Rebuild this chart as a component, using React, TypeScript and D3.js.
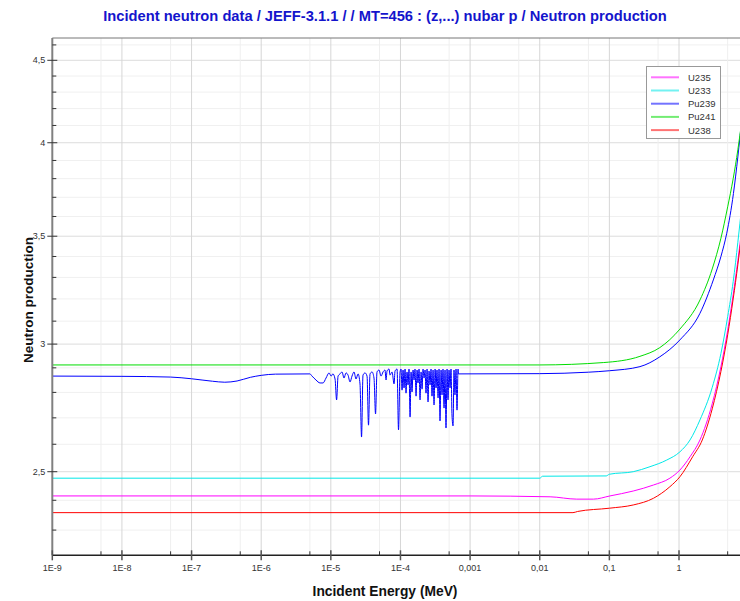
import React from 'react';
import * as d3 from 'd3';

const title = 'Incident neutron data / JEFF-3.1.1 / / MT=456 : (z,...) nubar p / Neutron production';
const xLabel = 'Incident Energy (MeV)';
const yLabel = 'Neutron production';

const xTicks = [1e-9, 1e-8, 1e-7, 1e-6, 1e-5, 1e-4, 1e-3, 1e-2, 1e-1, 1];
const xTickLabels = ['1E-9', '1E-8', '1E-7', '1E-6', '1E-5', '1E-4', '0,001', '0,01', '0,1', '1'];
const xMinorTicks = [5e-9, 5e-8, 5e-7, 5e-6, 5e-5, 5e-4, 5e-3, 5e-2, 0.5, 5];
const yTicks = [2.5, 3, 3.5, 4, 4.5];
const yTickLabels = ['2,5', '3', '3,5', '4', '4,5'];
const yMinorTicks = [2.3, 2.4, 2.6, 2.7, 2.8, 2.9, 3.1, 3.2, 3.3, 3.4, 3.6, 3.7, 3.8, 3.9, 4.1, 4.2, 4.3, 4.4, 4.6];

// [energy MeV, nubar]
const u235 = [[1e-9, 2.415], [1e-3, 2.415], [0.0141, 2.412], [0.034, 2.404], [0.059, 2.404], [0.102, 2.415], [0.22, 2.432], [0.43, 2.453], [0.74, 2.477], [1.03, 2.506], [1.44, 2.554], [2, 2.616], [3, 2.755], [4, 2.905], [5, 3.06], [6, 3.22], [7, 3.38], [8, 3.54]];
const u233 = [[1e-9, 2.477], [0.01, 2.477], [0.011, 2.484], [0.09, 2.485], [0.1, 2.491], [0.22, 2.5], [0.383, 2.518], [0.666, 2.542], [1.03, 2.572], [1.44, 2.616], [2, 2.692], [3, 2.82], [4, 2.96], [5, 3.12], [6, 3.28], [7, 3.47], [8, 3.66]];
const pu239Low = [[1e-9, 2.866], [1e-8, 2.865], [5e-8, 2.862], [1e-7, 2.855], [2e-7, 2.845], [3e-7, 2.841], [4.5e-7, 2.846], [7e-7, 2.861], [1e-6, 2.869], [1.6e-6, 2.874], [5e-6, 2.875]];
const pu239Res = [
  [5.37e-6, 2.866], [6.12e-6, 2.85], [7.0e-6, 2.838], [7.73e-6, 2.838], [8.53e-6, 2.858], [9.42e-6, 2.879],
  [1.01e-5, 2.866], [1.07e-5, 2.875], [1.15e-5, 2.854], [1.21e-5, 2.77], [1.27e-5, 2.866], [1.355e-5, 2.875],
  [1.449e-5, 2.883], [1.546e-5, 2.858], [1.652e-5, 2.879], [1.766e-5, 2.87], [1.888e-5, 2.842], [2.014e-5, 2.866],
  [2.153e-5, 2.883], [2.301e-5, 2.854], [2.46e-5, 2.875], [2.624e-5, 2.834], [2.761e-5, 2.627], [2.897e-5, 2.87],
  [3.097e-5, 2.879], [3.311e-5, 2.866], [3.475e-5, 2.672], [3.656e-5, 2.875], [3.908e-5, 2.883], [4.169e-5, 2.858],
  [4.385e-5, 2.715], [4.603e-5, 2.883], [4.92e-5, 2.891], [5.26e-5, 2.866], [5.623e-5, 2.883], [5.998e-5, 2.891],
  [6.209e-5, 2.85], [6.412e-5, 2.887], [6.855e-5, 2.895], [7.079e-5, 2.87], [7.568e-5, 2.883], [8.091e-5, 2.834],
  [8.356e-5, 2.887], [8.933e-5, 2.895], [9.376e-5, 2.654], [9.863e-5, 2.883], [1.019e-4, 2.895], [1.054e-4, 2.809],
  [1.089e-4, 2.891], [1.125e-4, 2.818], [1.164e-4, 2.895], [1.202e-4, 2.797], [1.242e-4, 2.883], [1.285e-4, 2.83],
  [1.327e-4, 2.895], [1.374e-4, 2.703], [1.419e-4, 2.883], [1.466e-4, 2.802], [1.517e-4, 2.891], [1.567e-4, 2.85],
  [1.618e-4, 2.895], [1.675e-4, 2.785], [1.73e-4, 2.891], [1.786e-4, 2.838], [1.849e-4, 2.895], [1.91e-4, 2.77],
  [1.977e-4, 2.883], [2.042e-4, 2.813], [2.109e-4, 2.895], [2.183e-4, 2.858], [2.254e-4, 2.891], [2.328e-4, 2.797],
  [2.41e-4, 2.895], [2.489e-4, 2.762], [2.57e-4, 2.887], [2.661e-4, 2.83], [2.748e-4, 2.895], [2.838e-4, 2.785],
  [2.938e-4, 2.891], [3.034e-4, 2.75], [3.141e-4, 2.895], [3.243e-4, 2.818], [3.35e-4, 2.891], [3.467e-4, 2.778],
  [3.581e-4, 2.895], [3.698e-4, 2.688], [3.828e-4, 2.891], [3.954e-4, 2.79], [4.083e-4, 2.895], [4.227e-4, 2.738],
  [4.365e-4, 2.891], [4.508e-4, 2.661], [4.667e-4, 2.895], [4.819e-4, 2.77], [4.977e-4, 2.891], [5.152e-4, 2.818],
  [5.321e-4, 2.895], [5.495e-4, 2.711], [5.689e-4, 2.669], [5.875e-4, 2.891], [6.067e-4, 2.79], [6.281e-4, 2.895],
  [6.486e-4, 2.73], [6.714e-4, 2.895],
];
const pu239High = [[6.8e-4, 2.875], [0.01, 2.876], [0.05, 2.882], [0.1, 2.888], [0.275, 2.905], [0.53, 2.946], [1.03, 3.018], [2, 3.135], [3.11, 3.288], [4, 3.4], [4.85, 3.515], [6.05, 3.72], [7, 3.92], [8, 4.14]];
const pu241 = [[1e-9, 2.912], [0.01, 2.912], [0.083, 2.922], [0.275, 2.948], [0.53, 2.985], [1.03, 3.065], [2, 3.195], [3, 3.34], [4, 3.49], [5, 3.65], [6, 3.8], [7, 3.96], [8, 4.13]];
const u238 = [[1e-9, 2.358], [0.03, 2.358], [0.035, 2.362], [0.1, 2.373], [0.22, 2.384], [0.43, 2.407], [0.74, 2.447], [1.03, 2.482], [1.57, 2.554], [2.16, 2.616], [3, 2.735], [4, 2.885], [5, 3.04], [6, 3.2], [7, 3.36], [8, 3.52]];

const seriesNames = ['U235', 'U233', 'Pu239', 'Pu241', 'U238'];
const seriesColors = ['#ff00ff', '#00e8e8', '#0000ff', '#00dd00', '#ff0000'];
const seriesData = [u235, u233, [...pu239Low, ...pu239Res, ...pu239High], pu241, u238];

const W = 740;
const H = 601;
const left = 52.3;
const top = 38;
const bottom = 555.3;
const font = '"Liberation Sans", Arial, sans-serif';

export default function App() {
  const x = d3.scaleLog().domain([1e-9, 1]).range([left, 679]);
  const y = d3.scaleLog().domain([2.2186, 4.6457]).range([bottom, top]);
  const line = d3.line<number[]>().x(d => x(d[0])).y(d => y(d[1])).curve(d3.curveMonotoneX);

  return (
    <svg width={W} height={H} style={{ position: 'absolute', left: 0, top: 0, background: '#fff' }} fontFamily={font}>
      <defs>
        <clipPath id="plot">
          <rect x={left} y={top} width={W - left} height={bottom - top} />
        </clipPath>
      </defs>
      <rect width={W} height={H} fill="#fff" />

      {/* grid */}
      {yMinorTicks.map(v => (
        <line key={'gy' + v} x1={left} x2={W} y1={y(v)} y2={y(v)} stroke="#f0f0f0" />
      ))}
      {yTicks.map(v => (
        <line key={'Gy' + v} x1={left} x2={W} y1={y(v)} y2={y(v)} stroke="#dcdcdc" />
      ))}
      {xMinorTicks.map(v => (
        <line key={'gx' + v} x1={x(v)} x2={x(v)} y1={top} y2={bottom} stroke="#efefef" />
      ))}
      {xTicks.slice(1).map(v => (
        <line key={'Gx' + v} x1={x(v)} x2={x(v)} y1={top} y2={bottom} stroke="#d6d6d6" />
      ))}

      {/* curves */}
      <g clipPath="url(#plot)">
        {seriesData.map((d, i) => (
          <path key={seriesNames[i]} d={line(d) || ''} fill="none" stroke={seriesColors[i]} strokeWidth={1} />
        ))}
      </g>

      {/* frame */}
      <line x1={left} x2={W} y1={top} y2={top} stroke="#777" />
      <line x1={left} x2={left} y1={top} y2={bottom} stroke="#808080" strokeWidth={2} />
      <line x1={left} x2={W} y1={bottom} y2={bottom} stroke="#222" strokeWidth={1.5} />

      {/* y ticks */}
      {yMinorTicks.map(v => (
        <line key={'ty' + v} x1={left} x2={left + 4} y1={y(v)} y2={y(v)} stroke="#333" />
      ))}
      {yTicks.map((v, i) => (
        <g key={'Ty' + v}>
          <line x1={left - 5} x2={left + 5} y1={y(v)} y2={y(v)} stroke="#333" />
          <text x={left - 7} y={y(v) + 3} textAnchor="end" fontSize={9} fill="#333">{yTickLabels[i]}</text>
        </g>
      ))}

      {/* x ticks */}
      {xMinorTicks.map(v => (
        <line key={'tx' + v} x1={x(v)} x2={x(v)} y1={bottom - 4} y2={bottom} stroke="#333" />
      ))}
      {xTicks.map((v, i) => (
        <g key={'Tx' + v}>
          <line x1={x(v)} x2={x(v)} y1={bottom - 5} y2={bottom + 5} stroke="#555" strokeWidth={1.5} />
          <text x={x(v)} y={bottom + 16} textAnchor="middle" fontSize={9} fill="#333">{xTickLabels[i]}</text>
        </g>
      ))}

      {/* legend */}
      <rect x={646.5} y={66.5} width={74} height={72} fill="#fff" stroke="#999" />
      {seriesNames.map((n, i) => (
        <g key={'lg' + n} transform={`translate(0,${77.3 + i * 13.2})`}>
          <line x1={651} x2={679} y1={0} y2={0} stroke={seriesColors[i]} strokeWidth={2} strokeOpacity={0.55} />
          <text x={688} y={3.5} fontSize={9.5} fill="#333">{n}</text>
        </g>
      ))}

      {/* titles */}
      <text x={385} y={21} textAnchor="middle" fontSize={14.7} fontWeight="bold" fill="#1414cc">{title}</text>
      <text x={385} y={596} textAnchor="middle" fontSize={13.8} fontWeight="bold" fill="#111">{xLabel}</text>
      <text transform="translate(33,300) rotate(-90)" textAnchor="middle" fontSize={13.5} fontWeight="bold" fill="#111">{yLabel}</text>
    </svg>
  );
}
